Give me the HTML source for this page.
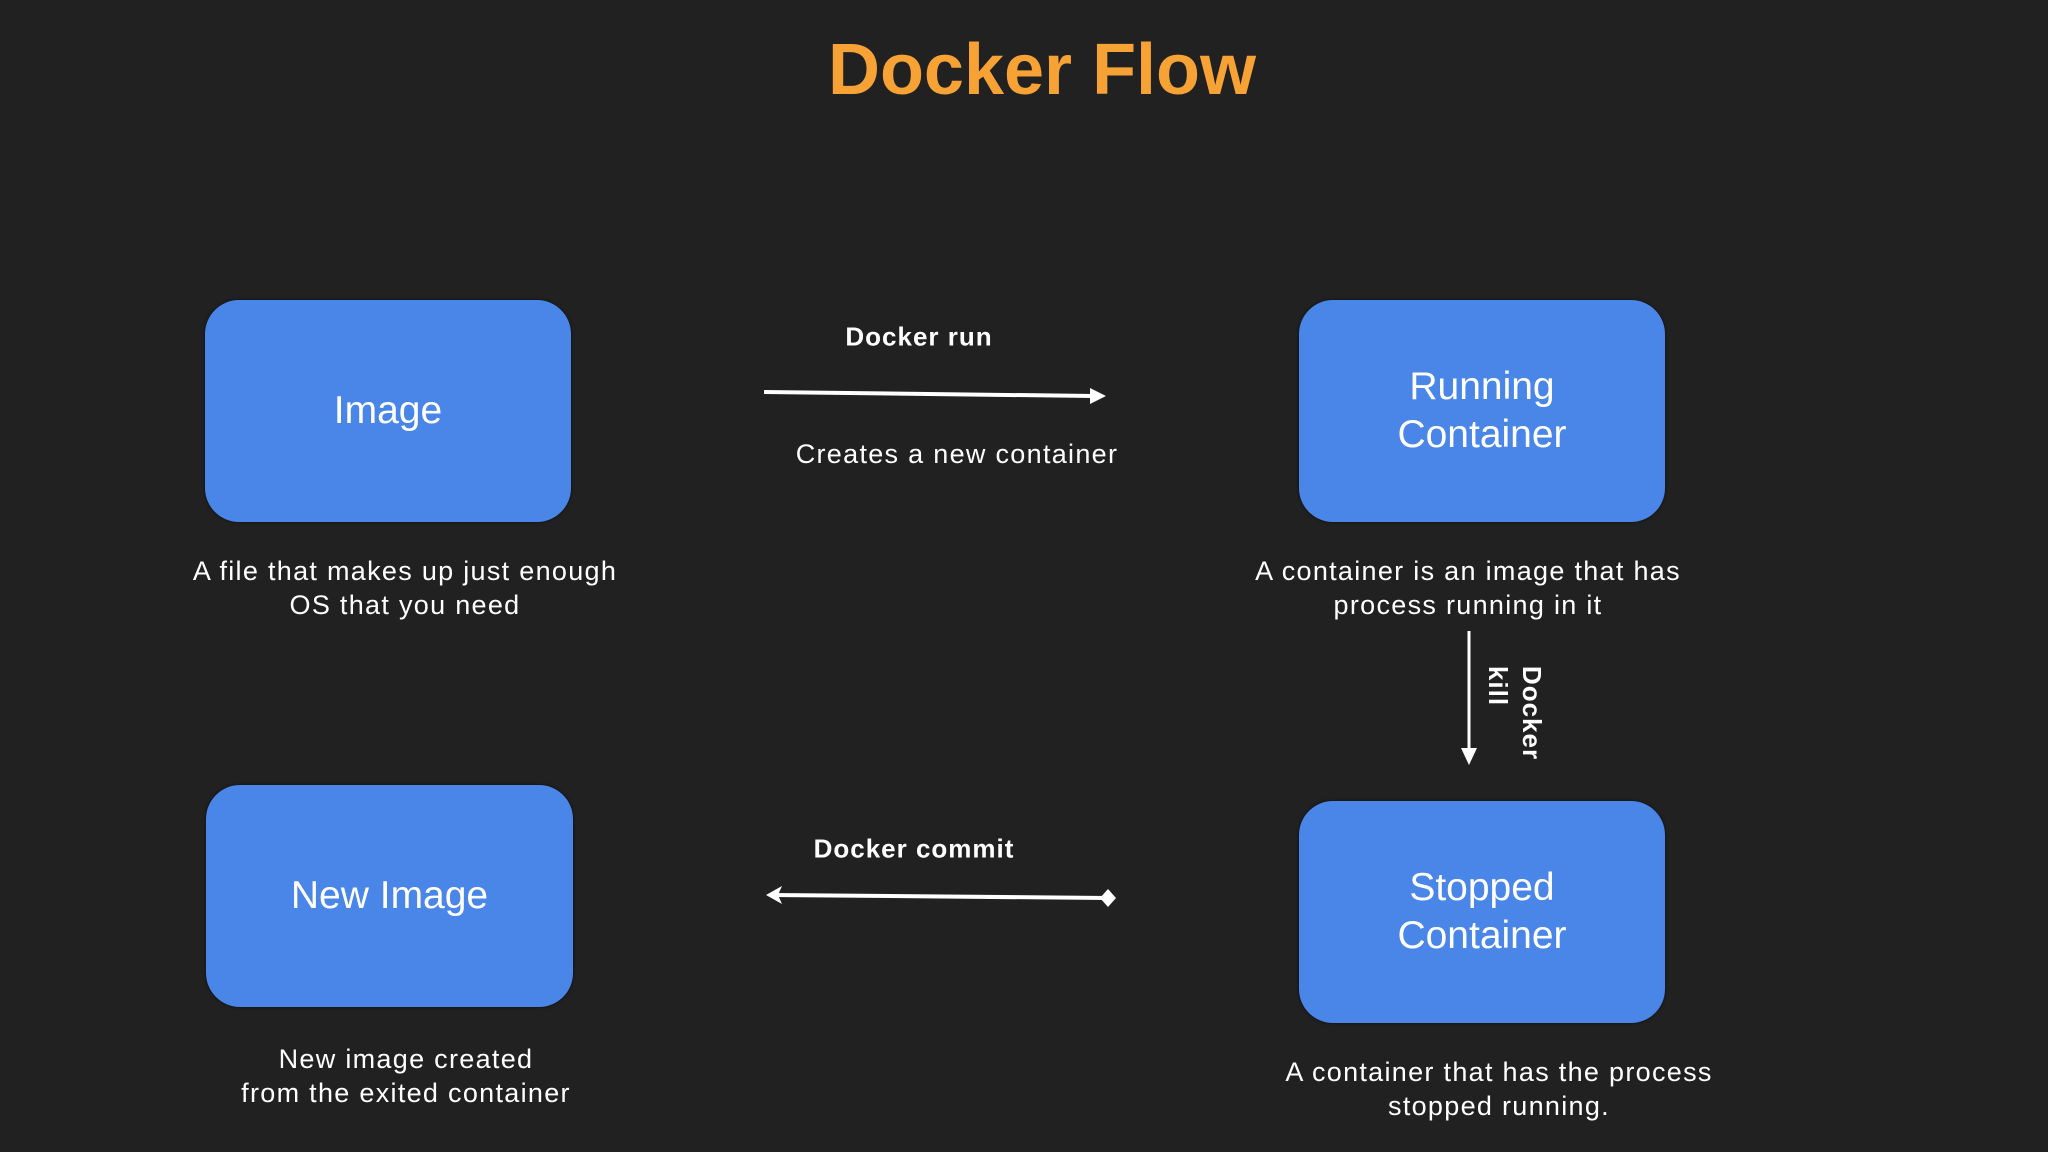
<!DOCTYPE html>
<html><head><meta charset="utf-8"><style>
body{margin:0;width:2048px;height:1152px;background:#212122;overflow:hidden;font-family:"Liberation Sans",sans-serif;position:relative}
.t{position:absolute;color:#fff;text-align:center;white-space:nowrap;transform:translate(-50%,-50%)}
.box{position:absolute;background:#4a86e8;border-radius:34px;color:#fff;display:flex;align-items:center;justify-content:center;text-align:center;font-size:39px;line-height:48px;box-shadow:0 0 3px rgba(0,0,0,.6)}
.cap{font-size:27px;line-height:34px;letter-spacing:1.3px}
.b{font-size:26px;font-weight:bold;letter-spacing:1px}
</style></head><body>
<div class="t" style="left:1042px;top:70px;font-size:72px;color:#f7a234;font-weight:bold;letter-spacing:0px">Docker Flow</div>
<div class="box" style="left:205px;top:300px;width:366px;height:222px">Image</div>
<div class="box" style="left:1299px;top:300px;width:366px;height:222px">Running<br>Container</div>
<div class="box" style="left:206px;top:785px;width:367px;height:222px">New Image</div>
<div class="box" style="left:1299px;top:801px;width:366px;height:222px">Stopped<br>Container</div>
<div class="t cap" style="left:405px;top:588px">A file that makes up just enough<br>OS that you need</div>
<div class="t cap" style="left:1468px;top:588px">A container is an image that has<br>process running in it</div>
<div class="t cap" style="left:406px;top:1076px">New image created<br>from the exited container</div>
<div class="t cap" style="left:1499px;top:1089px">A container that has the process<br>stopped running.</div>
<div class="t b" style="left:919px;top:337px">Docker run</div>
<div class="t cap" style="left:957px;top:454px">Creates a new container</div>
<div class="t b" style="left:914px;top:849px">Docker commit</div>
<div class="t b" style="left:1515px;top:713px;line-height:34px;transform:translate(-50%,-50%) rotate(90deg);text-align:left">Docker<br>kill</div>
<svg width="2048" height="1152" style="position:absolute;left:0;top:0">
<line x1="764" y1="392" x2="1094" y2="396" stroke="#fff" stroke-width="4"/>
<polygon points="1106,396 1090,388 1090,404" fill="#fff"/>
<line x1="1469" y1="631" x2="1469" y2="750" stroke="#fff" stroke-width="3"/>
<polygon points="1469,765 1461,748 1477,748" fill="#fff"/>
<line x1="772" y1="895" x2="1108" y2="898" stroke="#fff" stroke-width="4"/>
<polygon points="766,895 782,886 778,895 782,904" fill="#fff"/>
<polygon points="1116,898 1108,889 1100,898 1108,907" fill="#fff"/>
</svg>
</body></html>
